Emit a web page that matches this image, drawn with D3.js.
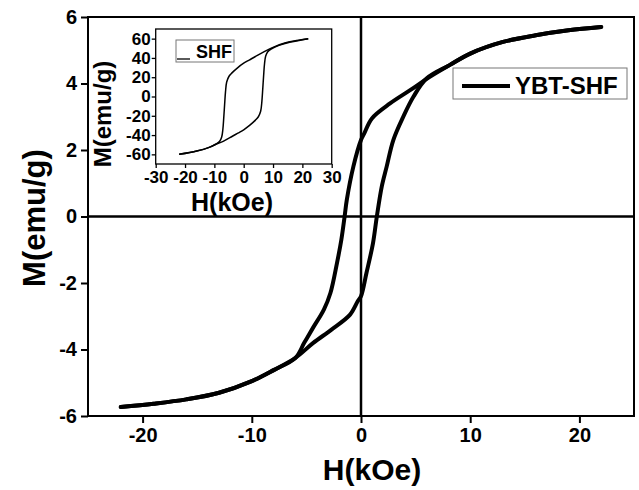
<!DOCTYPE html>
<html>
<head>
<meta charset="utf-8">
<script src="https://cdn.jsdelivr.net/npm/d3@7"></script>
<style>
  body { margin: 0; background: #fff; }
  svg text { font-family: "Liberation Sans", Arial, sans-serif; font-weight: bold; fill: #000; }
</style>
</head>
<body>
<svg id="chart" width="639" height="490"></svg>
<script>
// main loop YBT-SHF, descending branch (from +H)
const mainDownH = [22, 19, 16, 13, 10, 8.15, 6.3, 4.5, 2.66, 1, 0.3, 0, -0.7, -1.3, -1.5, -1.8, -2.2, -2.8, -3.4, -4.4, -5.2, -6, -8, -10, -13, -16, -19, -22];
const mainDownM = [5.70, 5.60, 5.45, 5.25, 4.9, 4.56, 4.2, 3.8, 3.4, 2.95, 2.5, 2.3, 1.5, 0.5, 0, -0.7, -1.4, -2.3, -2.8, -3.35, -3.8, -4.25, -4.62, -4.95, -5.3, -5.5, -5.63, -5.73];
// ascending branch (from -H)
const mainUpH = [-22, -19, -16, -13, -10, -8, -6, -4.4, -2.7, -1, -0.3, 0, 0.5, 1.1, 1.45, 1.9, 2.35, 2.96, 3.87, 4.8, 6.0, 8.15, 10, 13, 16, 19, 22];
const mainUpM = [-5.73, -5.63, -5.5, -5.3, -4.95, -4.62, -4.25, -3.81, -3.4, -2.95, -2.55, -2.4, -1.7, -0.8, 0, 0.9, 1.5, 2.3, 3.0, 3.6, 4.15, 4.56, 4.9, 5.25, 5.45, 5.6, 5.7];

// inset loop SHF
const insetDownH = [22, 18, 14, 10, 7, 4, 2, 0, -2, -4, -5, -5.8, -6.2, -6.5, -6.8, -7.1, -7.5, -8.2, -9.5, -12, -16, -22];
const insetDownM = [60, 58, 55.5, 51, 46.5, 41.5, 38, 34.5, 30, 24.5, 21, 15, 5, -8, -22, -34, -42, -46.5, -49.5, -53, -56.5, -60];
const insetUpH = [-22, -16, -12, -9.5, -7, -4, -2, 0, 2, 4, 5, 5.8, 6.2, 6.5, 6.8, 7.1, 7.5, 8.2, 9.5, 12, 16, 22];
const insetUpM = [-60, -56.5, -53, -49.5, -46.5, -41.5, -38, -34.5, -30, -24.5, -21, -15, -5, 8, 22, 34, 42, 46.5, 49.5, 53, 56.5, 60];

const mainXTicks = [-20, -10, 0, 10, 20];
const mainYTicks = [-6, -4, -2, 0, 2, 4, 6];
const insetXTicks = [-30, -20, -10, 0, 10, 20, 30];
const insetYTicks = [-60, -40, -20, 0, 20, 40, 60];

const svg = d3.select("#chart");
const fmt = d => String(d); // plain hyphen minus like the original

// ---- main plot ----
const x = d3.scaleLinear().domain([-25, 25]).range([88, 634]);
const y = d3.scaleLinear().domain([-6, 6]).range([416, 17]);

const xAxis = svg.append("g")
    .attr("transform", `translate(0,${y(-6)})`)
    .call(d3.axisBottom(x).tickValues(mainXTicks).tickSize(7).tickPadding(5).tickFormat(fmt));
const yAxis = svg.append("g")
    .attr("transform", `translate(${x(-25)},0)`)
    .call(d3.axisLeft(y).tickValues(mainYTicks).tickSize(7).tickPadding(4).tickFormat(fmt));
[xAxis, yAxis].forEach(a => {
    a.select(".domain").remove();
    a.selectAll("line").attr("stroke", "#000").attr("stroke-width", 2);
    a.selectAll("text").style("font-size", "20px").attr("fill", "#000");
});

// zero lines
svg.append("line")
    .attr("x1", x(0)).attr("x2", x(0)).attr("y1", y(6)).attr("y2", y(-6))
    .attr("stroke", "#000").attr("stroke-width", 2.5);
svg.append("line")
    .attr("x1", x(-25)).attr("x2", x(25)).attr("y1", y(0)).attr("y2", y(0))
    .attr("stroke", "#000").attr("stroke-width", 2.5);

const line = d3.line().x(d => x(d[0])).y(d => y(d[1])).curve(d3.curveCatmullRom);
const mainDown = mainDownH.map((h, i) => [h, mainDownM[i]]);
const mainUp = mainUpH.map((h, i) => [h, mainUpM[i]]);
[mainDown, mainUp].forEach(b => {
    svg.append("path").datum(b)
        .attr("d", line)
        .attr("fill", "none").attr("stroke", "#000")
        .attr("stroke-width", 4).attr("stroke-linejoin", "round").attr("stroke-linecap", "round");
});

// frame
svg.append("rect")
    .attr("x", x(-25)).attr("y", y(6))
    .attr("width", x(25) - x(-25)).attr("height", y(-6) - y(6))
    .attr("fill", "none").attr("stroke", "#000").attr("stroke-width", 2);

// axis titles
svg.append("text")
    .attr("x", 372).attr("y", 480)
    .attr("text-anchor", "middle").style("font-size", "30px")
    .text("H(kOe)");
svg.append("text")
    .attr("transform", "translate(45,218) rotate(-90)")
    .attr("text-anchor", "middle").style("font-size", "31px")
    .text("M(emu/g)");

// legend
const legend = svg.append("g");
legend.append("rect")
    .attr("x", 453).attr("y", 68).attr("width", 174).attr("height", 31)
    .attr("fill", "#fff").attr("stroke", "#777").attr("stroke-width", 1);
legend.append("line")
    .attr("x1", 462).attr("x2", 510).attr("y1", 86).attr("y2", 86)
    .attr("stroke", "#000").attr("stroke-width", 4);
legend.append("text")
    .attr("x", 515).attr("y", 94).style("font-size", "24px")
    .text("YBT-SHF");

// ---- inset ----
const ix = d3.scaleLinear().domain([-30, 30]).range([155.7, 331.7]);
const iy = d3.scaleLinear().domain([-70, 70]).range([164, 29]);

svg.append("rect")
    .attr("x", ix(-30)).attr("y", iy(70))
    .attr("width", ix(30) - ix(-30)).attr("height", iy(-70) - iy(70))
    .attr("fill", "#fff");

const ixAxis = svg.append("g")
    .attr("transform", `translate(0,${iy(-70)})`)
    .call(d3.axisBottom(ix).tickValues(insetXTicks).tickSize(4).tickPadding(3).tickFormat(fmt));
const iyAxis = svg.append("g")
    .attr("transform", `translate(${ix(-30)},0)`)
    .call(d3.axisLeft(iy).tickValues(insetYTicks).tickSize(4).tickPadding(1).tickFormat(fmt));
[ixAxis, iyAxis].forEach(a => {
    a.select(".domain").remove();
    a.selectAll("line").attr("stroke", "#000").attr("stroke-width", 1.3);
    a.selectAll("text").style("font-size", "17px").attr("fill", "#000");
});

const iline = d3.line().x(d => ix(d[0])).y(d => iy(d[1])).curve(d3.curveCatmullRom);
const insetDown = insetDownH.map((h, i) => [h, insetDownM[i]]);
const insetUp = insetUpH.map((h, i) => [h, insetUpM[i]]);
[insetDown, insetUp].forEach(b => {
    svg.append("path").datum(b)
        .attr("d", iline)
        .attr("fill", "none").attr("stroke", "#000").attr("stroke-width", 1.5);
});

svg.append("rect")
    .attr("x", ix(-30)).attr("y", iy(70))
    .attr("width", ix(30) - ix(-30)).attr("height", iy(-70) - iy(70))
    .attr("fill", "none").attr("stroke", "#000").attr("stroke-width", 1.3);

svg.append("text")
    .attr("x", 232).attr("y", 211)
    .attr("text-anchor", "middle").style("font-size", "25px")
    .text("H(kOe)");
svg.append("text")
    .attr("transform", "translate(111,114) rotate(-90)")
    .attr("text-anchor", "middle").style("font-size", "24px")
    .text("M(emu/g)");

const ilegend = svg.append("g");
ilegend.append("rect")
    .attr("x", 176).attr("y", 40).attr("width", 58).attr("height", 22)
    .attr("fill", "#fff").attr("stroke", "#777").attr("stroke-width", 1);
ilegend.append("line")
    .attr("x1", 177).attr("x2", 190).attr("y1", 59).attr("y2", 59)
    .attr("stroke", "#000").attr("stroke-width", 1.3);
ilegend.append("text")
    .attr("x", 196).attr("y", 58).style("font-size", "18px")
    .text("SHF");
</script>
</body>
</html>
